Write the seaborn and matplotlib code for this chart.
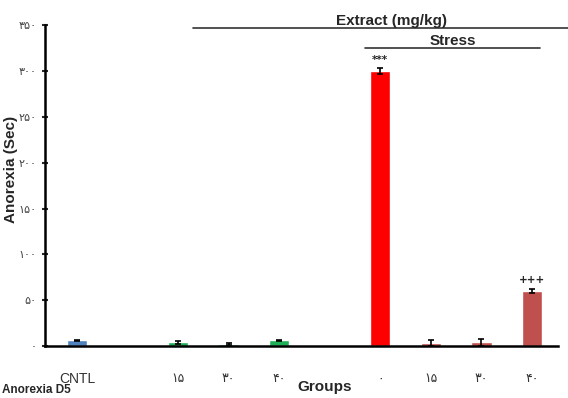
import matplotlib
matplotlib.use("Agg")
import matplotlib.pyplot as plt
import seaborn as sns
import pandas as pd

# ---- data ----
groups = ["CNTL", "E15", "E30", "E40", "S0", "S15", "S30", "S40"]
tick_labels = ["CNTL", "", "۱۵", "۳۰", "۴۰", "", "۰", "۱۵", "۳۰", "۴۰"]
order = ["CNTL", "_gap1", "E15", "E30", "E40", "_gap2", "S0", "S15", "S30", "S40"]
values = [6, 4, 2.5, 6, 300, 3, 4, 60]
errors = [1, 1.5, 1, 1, 3, 3, 4, 2]
colors = ["#4F81BD", "#1DB056", "#1DB056", "#1DB056", "#FF0000", "#C0504D", "#C0504D", "#C0504D"]
annotations = {"S0": "***", "S40": "+++"}
yticks = [0, 50, 100, 150, 200, 250, 300, 350]
ytick_labels = ["۰", "۵۰", "۱۰۰", "۱۵۰", "۲۰۰", "۲۵۰", "۳۰۰", "۳۵۰"]

df = pd.DataFrame({"group": groups, "value": values, "err": errors})

sns.set_theme(style="white")
plt.rcParams["font.family"] = ["Liberation Sans", "DejaVu Sans"]

fig = plt.figure(figsize=(5.68, 3.98), dpi=100)
ax = fig.add_axes([0.079, 0.1307, 0.903, 0.806])

sns.barplot(data=df, x="group", y="value", hue="group", order=order,
            palette=dict(zip(groups, colors)), width=0.4, legend=False,
            errorbar=None, ax=ax, saturation=1)

# error bars at bar centres
pos = {g: order.index(g) for g in groups}
xs = [pos[g] for g in groups]
ax.errorbar(xs, values, yerr=errors, fmt="none", ecolor="black",
            elinewidth=1.2, capsize=2.5, capthick=1.2)

for g, txt in annotations.items():
    i = groups.index(g)
    ax.text(pos[g], values[i] + errors[i] + 4, txt, ha="center", va="bottom",
            fontsize=7.5, fontweight="bold", family=["DejaVu Sans"])

ax.set_xlim(-0.633, 9.51)
ax.set_ylim(0, 350)
ax.set_yticks(yticks)
ax.set_yticklabels(ytick_labels, family=["DejaVu Sans"], fontsize=8, color="#444444")
ax.set_xticks(range(len(order)))
ax.set_xticklabels(tick_labels, family=["DejaVu Sans"], fontsize=9, color="#333333")
ax.tick_params(axis="x", length=0, pad=19)
ax.tick_params(axis="y", direction="inout", length=4, width=1.5, pad=4, left=True)
for s in ["top", "right"]:
    ax.spines[s].set_visible(False)
ax.spines["left"].set_linewidth(1.8)
ax.spines["bottom"].set_linewidth(1.8)
ax.spines["left"].set_color("black")
ax.spines["bottom"].set_color("black")
ax.set_xlabel("Groups", fontsize=11, fontweight="bold")
ax.xaxis.set_label_coords(0.545, -0.105)
ax.set_ylabel("Anorexia (Sec)", fontsize=11, fontweight="bold")
ax.yaxis.set_label_coords(-0.053, 0.55)
for lbl in ax.get_xticklabels():
    if lbl.get_text() == "CNTL":
        lbl.set_family(["Liberation Sans Narrow", "Liberation Sans"])
        lbl.set_fontsize(10)

# header brackets
W, H = 568, 398
fig.add_artist(plt.Line2D([193 / W, 568 / W], [1 - 28 / H, 1 - 28 / H], color="#333333", lw=1.2))
fig.text(392 / W, 1 - 28 / H, "Extract (mg/kg)", ha="center", va="bottom",
         fontsize=11, fontweight="bold", family=["Liberation Sans Narrow", "Liberation Sans"])
fig.add_artist(plt.Line2D([365 / W, 540 / W], [1 - 48 / H, 1 - 48 / H], color="#333333", lw=1.2))
fig.text(453 / W, 1 - 48 / H, "Stress", ha="center", va="bottom",
         fontsize=11, fontweight="bold", family=["Liberation Sans Narrow", "Liberation Sans"])
fig.text(2 / W, 1 - 390 / H, "Anorexia D5", ha="left", va="center",
         fontsize=8.5, fontweight="bold")

fig.savefig("out.png", dpi=100)
